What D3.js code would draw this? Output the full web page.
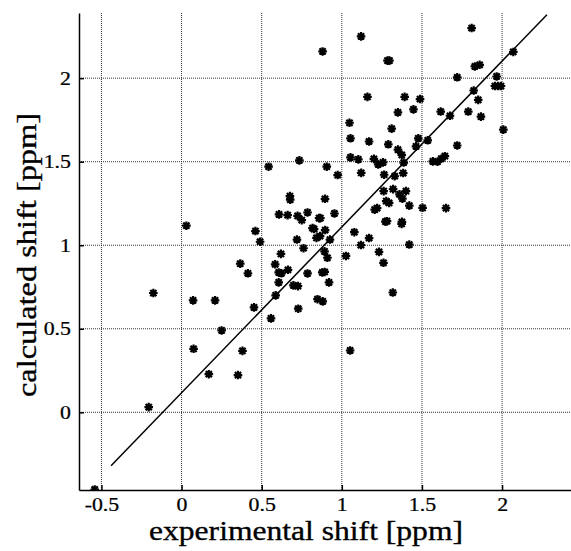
<!DOCTYPE html>
<html lang="en">
<head>
  <meta charset="UTF-8">
  <title>Calculated vs experimental shift</title>
  <script src="https://d3js.org/d3.v7.min.js"></script>
  <style>
    body {
      margin: 0;
      background: #fff;
    }

    svg text {
      font-family: "Liberation Serif", "Times New Roman", serif;
    }

    .grid line {
      stroke: #333;
      stroke-width: 1;
      stroke-dasharray: 1 1;
    }

    .axis path, .axis line {
      stroke: #000;
      stroke-width: 1.5;
    }

    .axis text {
      font-size: 19px;
      fill: #000;
      stroke: #000;
      stroke-width: 0.25;
    }

    .title {
      font-size: 28px;
      fill: #000;
      stroke: #000;
      stroke-width: 0.35;
    }
  </style>
</head>
<body>

<svg width="571" height="551"></svg>

<script>
  // experimental shift (x) and calculated shift (y), ppm
  const expShift = [
    1.81, 1.12, 0.88, 1.285, 1.297, 2.07, 1.83, 1.86, 1.72, 1.966,
    1.955, 1.975, 1.993, 1.823, 1.851, 1.868, 1.789, 2.008, 1.16, 1.392,
    1.488, 1.35, 1.447, 1.617, 1.675, 1.048, 1.311, 1.054, 1.17, 1.29,
    1.477, 1.536, 1.72, 1.35, 1.374, 1.463, 1.054, 1.103, 0.735, 0.543,
    0.906, 0.974, 1.121, 1.20, 1.227, 1.257, 1.264, 1.33, 1.383, 1.386,
    1.568, 1.597, 1.621, 1.643, 1.65, 1.504, 1.421, 1.40, 1.32, 1.261,
    1.36, 1.378, 1.277, 1.295, 1.205, 1.22, 1.272, 1.282, 1.375, 1.373,
    1.421, 1.119, 1.17, 1.078, 1.026, 1.232, 1.26, 1.318, 1.052, 0.954,
    0.895, 0.786, 0.676, 0.678, 0.608, 0.662, 0.724, 0.75, 0.858, 0.866,
    0.817, 0.827, 0.842, 0.864, 0.896, 0.926, 0.72, 0.761, 0.892, 0.91,
    0.62, 0.584, 0.606, 0.623, 0.664, 0.786, 0.878, 0.893, 0.606, 0.92,
    0.698, 0.726, 0.587, 0.848, 0.881, 0.728, 0.452, 0.558, 0.461, 0.49,
    0.366, 0.414, 0.03, -0.176, 0.072, 0.209, 0.25, 0.075, 0.38, 0.17,
    0.352, -0.205, -0.542
  ];
  const calcShift = [
    2.30, 2.25, 2.16, 2.105, 2.105, 2.157, 2.07, 2.08, 2.005, 2.01,
    1.953, 1.953, 1.953, 1.926, 1.87, 1.77, 1.80, 1.692, 1.888, 1.888,
    1.875, 1.795, 1.813, 1.80, 1.775, 1.733, 1.698, 1.64, 1.621, 1.604,
    1.64, 1.628, 1.597, 1.572, 1.541, 1.592, 1.526, 1.514, 1.508, 1.47,
    1.47, 1.42, 1.433, 1.517, 1.484, 1.496, 1.422, 1.413, 1.432, 1.495,
    1.502, 1.50, 1.518, 1.533, 1.222, 1.224, 1.237, 1.324, 1.336, 1.324,
    1.305, 1.279, 1.264, 1.253, 1.213, 1.222, 1.141, 1.144, 1.14, 1.128,
    1.004, 1.001, 1.043, 1.078, 0.936, 0.96, 0.895, 0.717, 0.37, 1.19,
    1.278, 1.196, 1.294, 1.273, 1.185, 1.18, 1.176, 1.15, 1.162, 1.162,
    1.103, 1.097, 1.044, 1.055, 1.091, 1.034, 1.034, 0.982, 0.963, 0.925,
    0.948, 0.886, 0.837, 0.832, 0.853, 0.831, 0.837, 0.84, 0.778, 0.778,
    0.76, 0.755, 0.70, 0.677, 0.664, 0.62, 0.628, 0.562, 1.085, 1.021,
    0.89, 0.832, 1.117, 0.714, 0.67, 0.67, 0.49, 0.38, 0.368, 0.228,
    0.223, 0.031, -0.462
  ];

  // fitted line end points
  const fitX = [-0.44, 2.28];
  const fitY = [-0.32, 2.38];

  const xTicks = [-0.5, 0, 0.5, 1, 1.5, 2];
  const yTicks = [0, 0.5, 1, 1.5, 2];

  const plotLeft = 79, plotRight = 571, plotTop = 13, plotBottom = 490;

  const svg = d3.select("svg");

  const x = d3.scaleLinear().domain([-0.64, 2.43]).range([plotLeft, plotRight]);
  const y = d3.scaleLinear().domain([-0.465, 2.39]).range([plotBottom, plotTop]);

  // clip for the plot area
  svg.append("defs").append("clipPath")
    .attr("id", "plot")
    .append("rect")
    .attr("x", plotLeft).attr("y", plotTop)
    .attr("width", plotRight - plotLeft).attr("height", plotBottom - plotTop);

  // Grid
  const grid = svg.append("g").attr("class", "grid");
  grid.selectAll(".vx")
    .data(xTicks)
    .enter().append("line")
    .attr("x1", v => x(v)).attr("x2", v => x(v))
    .attr("y1", plotTop).attr("y2", plotBottom);
  grid.selectAll(".hy")
    .data(yTicks)
    .enter().append("line")
    .attr("x1", plotLeft).attr("x2", plotRight)
    .attr("y1", v => y(v)).attr("y2", v => y(v));

  // Axes (ticks point inward)
  svg.append("g")
    .attr("class", "axis")
    .attr("transform", `translate(0,${plotBottom})`)
    .call(d3.axisBottom(x).tickValues(xTicks).tickSize(-5).tickSizeOuter(0)
      .tickPadding(8).tickFormat(v => String(v)));

  svg.append("g")
    .attr("class", "axis")
    .attr("transform", `translate(${plotLeft},0)`)
    .call(d3.axisLeft(y).tickValues(yTicks).tickSize(-5).tickSizeOuter(0)
      .tickPadding(7).tickFormat(v => String(v)));

  svg.selectAll(".axis").attr("font-family", null).attr("font-size", null);
  svg.selectAll(".axis text").attr("transform", "scale(1.15,1)");

  const plot = svg.append("g").attr("clip-path", "url(#plot)");

  // Fit line
  plot.append("line")
    .attr("x1", x(fitX[0])).attr("y1", y(fitY[0]))
    .attr("x2", x(fitX[1])).attr("y2", y(fitY[1]))
    .attr("stroke", "#000")
    .attr("stroke-width", 1.5);

  // Asterisk markers
  const mr = 4.3;
  const md = mr * 0.72;
  const star = `M${-mr},0H${mr}M0,${-mr}V${mr}M${-md},${-md}L${md},${md}M${-md},${md}L${md},${-md}`;

  plot.selectAll(".pt")
    .data(expShift.map((v, i) => [v, calcShift[i]]))
    .enter().append("path")
    .attr("class", "pt")
    .attr("transform", p => `translate(${x(p[0])},${y(p[1])})`)
    .attr("d", star)
    .attr("fill", "none")
    .attr("stroke", "#000")
    .attr("stroke-width", 2.2);

  // Axis titles
  svg.append("text")
    .attr("class", "title")
    .attr("x", 306)
    .attr("y", 540)
    .attr("text-anchor", "middle")
    .attr("textLength", 314)
    .attr("lengthAdjust", "spacingAndGlyphs")
    .text("experimental shift [ppm]");

  svg.append("text")
    .attr("class", "title")
    .attr("transform", "translate(35.5,255) rotate(-90)")
    .attr("text-anchor", "middle")
    .attr("textLength", 284)
    .attr("lengthAdjust", "spacingAndGlyphs")
    .text("calculated shift [ppm]");
</script>

</body>
</html>
